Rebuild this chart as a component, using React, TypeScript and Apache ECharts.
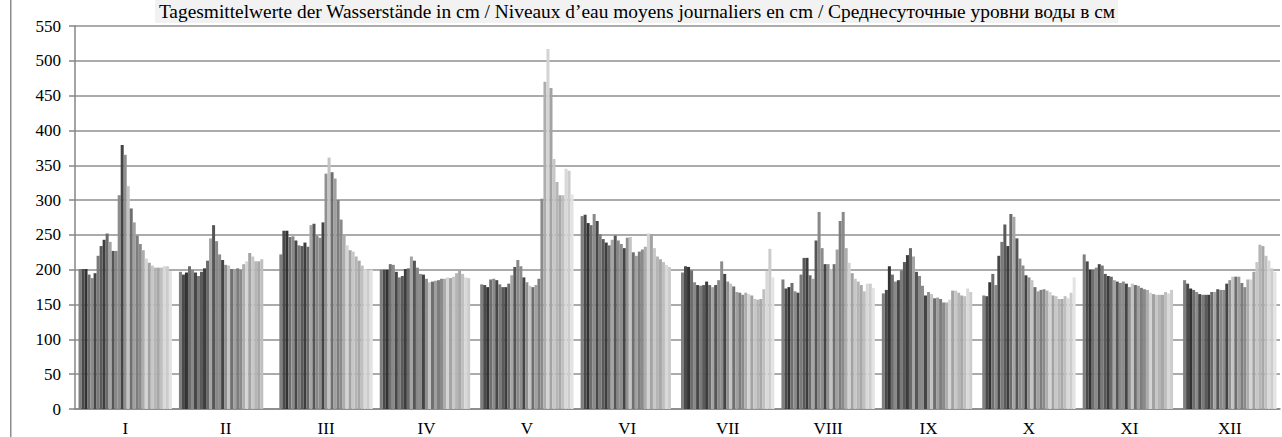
import React, { useEffect, useRef } from "react";
import * as echarts from "echarts";

const TITLE =
  "Tagesmittelwerte der Wasserstände in cm / Niveaux d’eau moyens journaliers en cm / Среднесуточные уровни воды в см";

const monthLabels = ["I", "II", "III", "IV", "V", "VI", "VII", "VIII", "IX", "X", "XI", "XII"];
const yTicks = { min: 0, max: 550, interval: 50 };

// daily mean water levels (cm), day 1..n of each month
const jan = [201, 201, 201, 193, 188, 195, 220, 234, 243, 252, 240, 227, 227, 307, 379, 365, 320, 288, 268, 249, 237, 228, 216, 210, 206, 203, 203, 203, 205, 205, 198];
const feb = [197, 193, 196, 205, 200, 196, 191, 197, 202, 213, 245, 264, 241, 222, 214, 207, 206, 201, 201, 202, 200, 208, 212, 224, 219, 212, 212, 215];
const mar = [222, 256, 256, 247, 248, 242, 235, 234, 239, 233, 264, 266, 249, 246, 268, 338, 361, 340, 331, 300, 272, 250, 235, 228, 226, 219, 213, 206, 201, 200, 200];
const apr = [200, 200, 200, 208, 207, 197, 189, 191, 201, 202, 219, 213, 203, 194, 193, 187, 182, 183, 184, 185, 187, 187, 189, 188, 190, 195, 199, 194, 189, 188];
const may = [179, 178, 175, 186, 187, 185, 179, 175, 175, 180, 192, 204, 214, 205, 189, 182, 177, 175, 178, 187, 302, 470, 517, 461, 359, 326, 307, 307, 345, 342, 308];
const jun = [277, 279, 267, 264, 280, 270, 251, 244, 239, 235, 243, 249, 242, 237, 231, 246, 247, 225, 220, 226, 229, 233, 252, 251, 231, 219, 215, 211, 207, 204];
const jul = [196, 205, 204, 199, 182, 178, 177, 178, 183, 178, 175, 178, 185, 212, 194, 183, 180, 176, 168, 167, 164, 167, 165, 163, 158, 157, 158, 172, 198, 230, 189];
const aug = [186, 173, 175, 181, 169, 167, 193, 217, 217, 192, 187, 242, 283, 231, 208, 208, 201, 208, 229, 270, 283, 231, 210, 195, 187, 183, 178, 169, 180, 180, 174];
const sep = [166, 171, 205, 193, 183, 185, 199, 211, 221, 231, 219, 197, 191, 177, 163, 168, 165, 159, 160, 158, 153, 153, 157, 170, 170, 167, 163, 162, 173, 168];
const oct = [163, 162, 182, 194, 178, 220, 240, 265, 234, 280, 276, 245, 216, 206, 192, 189, 185, 175, 169, 171, 172, 170, 168, 163, 162, 158, 158, 162, 159, 167, 189];
const nov = [222, 212, 200, 200, 203, 208, 206, 194, 191, 190, 185, 183, 181, 183, 180, 175, 180, 178, 177, 174, 172, 171, 167, 165, 164, 164, 164, 168, 166, 171];
const dec = [185, 180, 173, 171, 168, 165, 164, 164, 164, 168, 168, 172, 171, 171, 180, 185, 190, 190, 190, 181, 175, 186, 186, 197, 211, 236, 234, 220, 213, 202, 197];

const months = [jan, feb, mar, apr, may, jun, jul, aug, sep, oct, nov, dec];

const dayColors = [
  "#7f7f7f", "#4a4a4a", "#333333", "#6e6e6e", "#8a8a8a", "#474747",
  "#7a7a7a", "#5a5a5a", "#3d3d3d", "#6a6a6a", "#a5a5a5", "#555555",
  "#888888", "#8c8c8c", "#444444", "#909090", "#c4c4c4", "#6f6f6f",
  "#a0a0a0", "#7d7d7d", "#8a8a8a", "#adadad", "#d4d4d4", "#a3a3a3",
  "#c7c7c7", "#b5b5b5", "#a8a8a8", "#bfbfbf", "#d9d9d9", "#cccccc", "#e3e3e3",
];

const FONT = "Times New Roman, Liberation Serif, DejaVu Serif, serif";

export default function App() {
  const ref = useRef<HTMLDivElement>(null);

  useEffect(() => {
    if (!ref.current) return;
    const chart = echarts.init(ref.current, undefined, { renderer: "svg" });
    const series = dayColors.map((color, d) => ({
      type: "bar",
      name: String(d + 1),
      data: months.map((m) => (d < m.length ? m[d] : null)),
      itemStyle: { color },
      barGap: 0,
      barCategoryGap: "7%",
    }));
    chart.setOption({
      animation: false,
      textStyle: { fontFamily: FONT },
      grid: { left: 75, right: 2, top: 26, bottom: 24, containLabel: false },
      xAxis: {
        type: "category",
        data: monthLabels,
        axisLine: { lineStyle: { color: "#868686", width: 1.5 } },
        axisTick: { length: 5, lineStyle: { color: "#868686", width: 1.5 } },
        axisLabel: { fontFamily: FONT, fontSize: 17, color: "#000", margin: 11 },
      },
      yAxis: {
        type: "value",
        min: yTicks.min,
        max: yTicks.max,
        interval: yTicks.interval,
        axisLine: { show: true, lineStyle: { color: "#868686", width: 1.5 } },
        axisTick: { show: true, length: 6, lineStyle: { color: "#868686", width: 1.5 } },
        splitLine: { lineStyle: { color: "#8f8f8f", width: 1.5 } },
        axisLabel: { fontFamily: FONT, fontSize: 17, color: "#000", margin: 14 },
      },
      series,
      graphic: [
        {
          type: "rect",
          silent: true,
          shape: { x: 155, y: 0, width: 963, height: 23 },
          style: { fill: "#f2f2f2" },
        },
        {
          type: "text",
          silent: true,
          x: 637,
          y: 11,
          style: {
            text: TITLE,
            font: "19.4px Times New Roman, Liberation Serif, serif",
            fill: "#000",
            align: "center",
            verticalAlign: "middle",
          },
        },
        {
          type: "line",
          silent: true,
          shape: { x1: 10.75, y1: 0, x2: 10.75, y2: 437 },
          style: { stroke: "#8c8c8c", lineWidth: 1.5 },
        },
      ],
    });
    return () => chart.dispose();
  }, []);

  return (
    <div
      ref={ref}
      style={{ position: "fixed", left: 0, top: 0, width: 1282, height: 437, background: "#fff" }}
    />
  );
}
